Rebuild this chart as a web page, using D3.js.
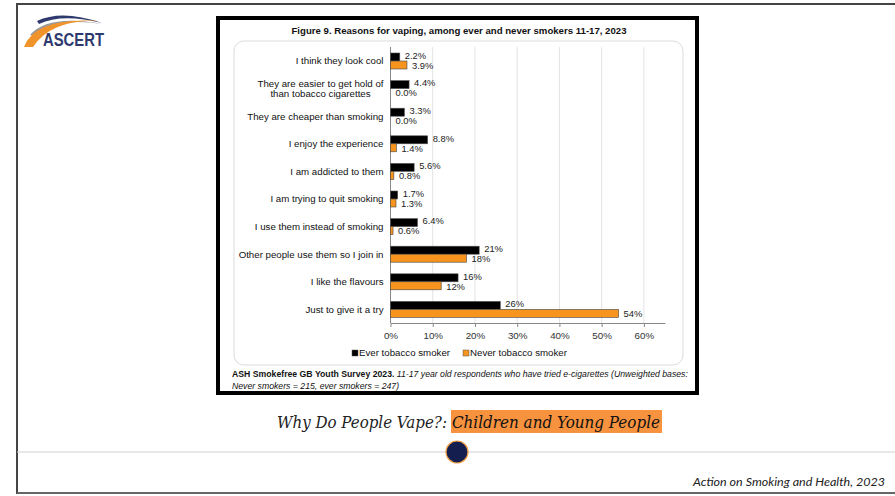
<!DOCTYPE html>
<html><head><meta charset="utf-8">
<script src="https://cdn.jsdelivr.net/npm/d3@7"></script>
<style>
html,body{margin:0;padding:0;background:#fff;}
svg{display:block;}
</style></head>
<body>
<svg id="c" width="895" height="496"></svg>
<script>
// ---- data ----
const categories = [
  "I think they look cool",
  "They are easier to get hold of\nthan tobacco cigarettes",
  "They are cheaper than smoking",
  "I enjoy the experience",
  "I am addicted to them",
  "I am trying to quit smoking",
  "I use them instead of smoking",
  "Other people use them so I join in",
  "I like the flavours",
  "Just to give it a try"
];
const everSmoker  = [2.2, 4.4, 3.3, 8.8, 5.6, 1.7, 6.4, 21, 16, 26];
const neverSmoker = [3.9, 0.0, 0.0, 1.4, 0.8, 1.3, 0.6, 18, 12, 54];
const everLabels  = ["2.2%","4.4%","3.3%","8.8%","5.6%","1.7%","6.4%","21%","16%","26%"];
const neverLabels = ["3.9%","0.0%","0.0%","1.4%","0.8%","1.3%","0.6%","18%","12%","54%"];
const xTicks = [0, 10, 20, 30, 40, 50, 60];
const seriesNames = ["Ever tobacco smoker", "Never tobacco smoker"];
const seriesColors = ["#000000", "#f7941d"];

const svg = d3.select("#c");

// ---- page decoration ----
svg.append("line").attr("x1",17).attr("x2",895).attr("y1",4).attr("y2",4).attr("stroke","#444").attr("stroke-width",2);
svg.append("line").attr("x1",17).attr("x2",17).attr("y1",3).attr("y2",494).attr("stroke","#444").attr("stroke-width",2);
svg.append("line").attr("x1",17).attr("x2",895).attr("y1",493).attr("y2",493).attr("stroke","#666").attr("stroke-width",2);
svg.append("line").attr("x1",17).attr("x2",895).attr("y1",452).attr("y2",452).attr("stroke","#cfcfcf").attr("stroke-width",1);
svg.append("circle").attr("cx",457).attr("cy",452).attr("r",11).attr("fill","#141f4f").attr("stroke","#f3a04a").attr("stroke-width",1.2);

// logo
const logo = svg.append("g");
logo.append("path").attr("d","M37,21 Q62,9 102,23 Q62,13 39,24 Z").attr("fill","#2e3a6e");
logo.append("path").attr("d","M30,35 Q48,14 102,24 Q55,17 35,36 Z").attr("fill","#9a9a9a");
logo.append("path").attr("d","M24,47 Q35,17 99,21 Q52,19 33,47 Z").attr("fill","#f0932b");
logo.append("text").attr("x",43).attr("y",46).attr("font-family","Liberation Sans, Arial").attr("font-weight","bold")
  .attr("font-size",18.5).attr("fill","#2e3a6e").attr("textLength",61).attr("lengthAdjust","spacingAndGlyphs").text("ASCERT");

// black frame
svg.append("rect").attr("x",218).attr("y",18).attr("width",479).attr("height",375).attr("fill","#fff").attr("stroke","#000").attr("stroke-width",4);
// inner rounded panel
svg.append("rect").attr("x",234).attr("y",41).attr("width",449).attr("height",324).attr("rx",10).attr("fill","#fff").attr("stroke","#dcdcdc").attr("stroke-width",1);

// title
svg.append("text").attr("x",459).attr("y",34).attr("text-anchor","middle").attr("font-family","Liberation Sans, Arial")
  .attr("font-weight","bold").attr("font-size",9.6).attr("fill","#111").attr("textLength",335).attr("lengthAdjust","spacingAndGlyphs")
  .text("Figure 9. Reasons for vaping, among ever and never smokers 11-17, 2023");

// ---- chart ----
const x = d3.scaleLinear().domain([0, 65]).range([390.5, 665]);
const y = d3.scaleBand().domain(d3.range(categories.length)).range([47.2, 323.2]);
const barH = 8;

const g = svg.append("g");
// gridlines
g.selectAll("line.grid").data(xTicks.slice(1)).join("line").attr("class","grid")
  .attr("x1",d=>x(d)).attr("x2",d=>x(d)).attr("y1",47).attr("y2",323).attr("stroke","#e3e3e3").attr("stroke-width",1);

// x axis
const xAxis = d3.axisBottom(x).tickValues(xTicks).tickFormat(d=>d+"%").tickSize(4).tickSizeOuter(0);
const ax = g.append("g").attr("transform","translate(0,323)").call(xAxis);
ax.select(".domain").attr("stroke","#888");
ax.selectAll(".tick line").attr("stroke","#888");
ax.selectAll(".tick text").attr("font-family","Liberation Sans, Arial").attr("font-size",9.8).attr("fill","#333").attr("dy","0.95em");

// y axis line
g.append("line").attr("x1",x(0)).attr("x2",x(0)).attr("y1",47).attr("y2",323).attr("stroke","#888");

// bars
const cy = i => y(i) + y.bandwidth()/2;
g.selectAll("rect.ever").data(everSmoker).join("rect").attr("class","ever")
  .attr("x",x(0)).attr("y",(d,i)=>cy(i)-barH).attr("width",d=>x(d)-x(0)).attr("height",barH)
  .attr("fill",seriesColors[0]).attr("stroke","#555").attr("stroke-width",0.6);
g.selectAll("rect.never").data(neverSmoker).join("rect").attr("class","never")
  .attr("x",x(0)).attr("y",(d,i)=>cy(i)).attr("width",d=>x(d)-x(0)).attr("height",barH)
  .attr("fill",seriesColors[1]).attr("stroke","#444").attr("stroke-width",0.6);

// value labels
g.selectAll("text.ev").data(everSmoker).join("text").attr("class","ev")
  .attr("x",d=>x(d)+5).attr("y",(d,i)=>cy(i)-barH/2-1.5).attr("dy","0.35em")
  .attr("font-family","Liberation Sans, Arial").attr("font-size",9.4).attr("fill","#222").text((d,i)=>everLabels[i]);
g.selectAll("text.nv").data(neverSmoker).join("text").attr("class","nv")
  .attr("x",d=>x(d)+5).attr("y",(d,i)=>cy(i)+barH/2+0.5).attr("dy","0.35em")
  .attr("font-family","Liberation Sans, Arial").attr("font-size",9.4).attr("fill","#222").text((d,i)=>neverLabels[i]);

// category labels
const labelRight = 383.5;
categories.forEach((c,i)=>{
  const lines = c.split("\n");
  const t = g.append("text").attr("font-family","Liberation Sans, Arial").attr("font-size",9.7).attr("fill","#111");
  if (lines.length === 1) {
    t.attr("x",labelRight).attr("y",cy(i)).attr("dy","0.35em").attr("text-anchor","end").text(c);
  } else {
    const spans = lines.map((l,k)=>t.append("tspan").attr("y",cy(i)+(k-(lines.length-1)/2)*10.2).attr("dy","0.35em").text(l));
    const maxW = d3.max(spans, s=>s.node().getComputedTextLength());
    spans.forEach(s=>s.attr("x",labelRight-maxW/2).attr("text-anchor","middle"));
  }
});

// legend
const leg = svg.append("g").attr("font-family","Liberation Sans, Arial").attr("font-size",9.7).attr("fill","#111");
const legX = [352, 463];
seriesNames.forEach((n,i)=>{
  leg.append("rect").attr("x",legX[i]).attr("y",350).attr("width",6).attr("height",6)
    .attr("fill",seriesColors[i]).attr("stroke","#555").attr("stroke-width",0.5);
  leg.append("text").attr("x",legX[i]+7).attr("y",353).attr("dy","0.35em").text(n);
});

// source note
const src = svg.append("text").attr("x",232).attr("y",377).attr("font-family","Liberation Sans, Arial").attr("font-size",8.7).attr("fill","#111");
src.append("tspan").attr("font-weight","bold").text("ASH Smokefree GB Youth Survey 2023.");
src.append("tspan").attr("font-style","italic").text(" 11-17 year old respondents who have tried e-cigarettes (Unweighted bases:");
svg.append("text").attr("x",232).attr("y",389).attr("font-family","Liberation Sans, Arial").attr("font-size",8.7).attr("font-style","italic").attr("fill","#111")
  .text("Never smokers = 215, ever smokers = 247)");

// caption
svg.append("rect").attr("x",451).attr("y",410).attr("width",211).attr("height",23).attr("fill","#f7923f");
svg.append("text").attr("x",277).attr("y",428).attr("font-family","DejaVu Serif, serif").attr("font-style","italic").attr("font-size",16)
  .attr("fill","#222").attr("textLength",170).attr("lengthAdjust","spacingAndGlyphs").text("Why Do People Vape?:");
svg.append("text").attr("x",452).attr("y",428).attr("font-family","DejaVu Serif, serif").attr("font-style","italic").attr("font-size",16)
  .attr("fill","#111").attr("textLength",208).attr("lengthAdjust","spacingAndGlyphs").text("Children and Young People");

svg.append("text").attr("x",885).attr("y",486).attr("text-anchor","end").attr("font-family","Lato, sans-serif").attr("font-style","italic")
  .attr("font-size",11).attr("fill","#222").attr("textLength",192).attr("lengthAdjust","spacingAndGlyphs").text("Action on Smoking and Health, 2023");
</script>
</body></html>
